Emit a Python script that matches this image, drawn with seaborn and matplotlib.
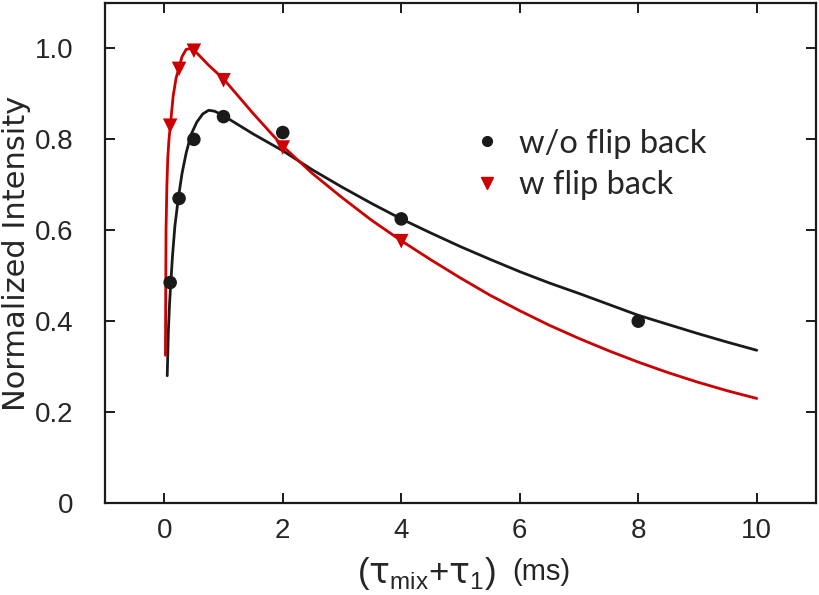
import matplotlib
matplotlib.use("Agg")
import matplotlib.pyplot as plt
from matplotlib import font_manager
from matplotlib.lines import Line2D
import seaborn as sns

# measured points
t_pts = [0.1, 0.25, 0.5, 1, 2, 4, 8]
wo_flip = [0.485, 0.67, 0.80, 0.85, 0.815, 0.625, 0.40]
t_pts_w = [0.1, 0.25, 0.5, 1, 2, 4]
w_flip = [0.83, 0.955, 0.995, 0.93, 0.782, 0.576]

# fitted curves
fit_x_wo = [0.05, 0.07, 0.09, 0.11, 0.14, 0.18, 0.24, 0.3, 0.37, 0.45, 0.55, 0.65, 0.75, 0.85, 1.0,
            1.5, 2.0, 2.5, 3.0, 3.5, 4.0, 4.5, 5.0, 5.5, 6.0, 6.5, 7.0, 7.5, 8.0, 8.5, 9.0, 9.5, 10.0]
fit_y_wo = [0.28, 0.38, 0.44, 0.483, 0.545, 0.61, 0.673, 0.725, 0.77, 0.81, 0.838, 0.856, 0.864, 0.862, 0.852,
            0.812, 0.775, 0.733, 0.695, 0.659, 0.625, 0.594, 0.564, 0.536, 0.509, 0.484, 0.461, 0.437, 0.413,
            0.393, 0.373, 0.354, 0.336]
fit_x_w = [0.02, 0.03, 0.045, 0.06, 0.08, 0.11, 0.15, 0.2, 0.25, 0.3, 0.37, 0.45, 0.55, 0.75, 1.0,
           1.5, 2.0, 2.5, 3.0, 3.5, 4.0, 4.5, 5.0, 5.5, 6.0, 6.5, 7.0, 7.5, 8.0, 8.5, 9.0, 9.5, 10.0]
fit_y_w = [0.325, 0.60, 0.70, 0.76, 0.80, 0.84, 0.895, 0.935, 0.958, 0.982, 0.998, 1.0, 0.99, 0.963, 0.933,
           0.857, 0.785, 0.725, 0.672, 0.622, 0.577, 0.535, 0.495, 0.457, 0.423, 0.391, 0.362, 0.335, 0.31,
           0.287, 0.266, 0.247, 0.23]

xticks = [0, 2, 4, 6, 8, 10]
yticks = [0, 0.2, 0.4, 0.6, 0.8, 1.0]
ytick_labels = ["0", "0.2", "0.4", "0.6", "0.8", "1.0"]
labels = ["w/o flip back", "w flip back"]

black = "#1a1a1a"
red = "#cc0000"

sns.set_style("ticks")
plt.rcParams["font.family"] = ["Liberation Sans", "DejaVu Sans"]
plt.rcParams["mathtext.fontset"] = "custom"
plt.rcParams["mathtext.rm"] = "Liberation Sans"
plt.rcParams["mathtext.it"] = "DejaVu Sans"
plt.rcParams["ytick.major.pad"] = 23
plt.rcParams["xtick.major.pad"] = 11

installed = {f.name for f in font_manager.fontManager.ttflist}
if "Liberation Sans Narrow" in installed:
    tick_font, tick_size = ["Liberation Sans Narrow"], 21
else:
    tick_font, tick_size = ["Liberation Sans"], 20

fig = plt.figure(figsize=(8.2, 5.95), dpi=100)
ax = fig.add_axes([105 / 820, 92 / 595, 711 / 820, 500 / 595])

sns.lineplot(x=fit_x_wo, y=fit_y_wo, color=black, lw=2.0, sort=False, ax=ax)
sns.scatterplot(x=t_pts, y=wo_flip, color=black, marker="o", s=95, edgecolor="none", ax=ax, zorder=3)
sns.lineplot(x=fit_x_w, y=fit_y_w, color=red, lw=2.0, sort=False, ax=ax)
sns.scatterplot(x=t_pts_w, y=w_flip, color=red, marker="v", s=110, edgecolor="none", ax=ax, zorder=3)

ax.set_xlim(-1, 11)
ax.set_ylim(0, 1.1)
ax.set_xticks(xticks)
ax.set_xticklabels([str(v) for v in xticks], family=tick_font, fontsize=tick_size)
ax.set_yticks(yticks)
ax.set_yticklabels(ytick_labels, family=tick_font, fontsize=tick_size)
ax.tick_params(direction="in", length=7, width=1.4, top=True, right=True, color=black)
ax.tick_params(axis="y", pad=23)
ax.tick_params(axis="x", pad=11)
for s in ax.spines.values():
    s.set_linewidth(1.6)
    s.set_color(black)

ax.set_ylabel("Normalized Intensity", fontsize=22, family=["DejaVu Sans"])
ax.yaxis.set_label_coords(-0.104, 0.5)

fig.text(426 / 820, 1 - 573 / 595, r"$(\tau_{\mathrm{mix}}{+}\tau_1)$", fontsize=25,
         ha="center", va="center")
fig.text(541 / 820, 1 - 572 / 595, "(ms)", fontsize=21, ha="center", va="center")

handles = [Line2D([], [], ls="none", marker="o", color=black, markersize=7),
           Line2D([], [], ls="none", marker="v", color=red, markersize=8)]
ax.legend(handles, labels, loc="center left", bbox_to_anchor=(0.515, 0.677), frameon=False,
          prop={"family": "Lato", "size": 23.5}, handlelength=1.0, handletextpad=0.48,
          borderpad=0, borderaxespad=0, labelspacing=0.35)

fig.savefig("out.png", dpi=100)
